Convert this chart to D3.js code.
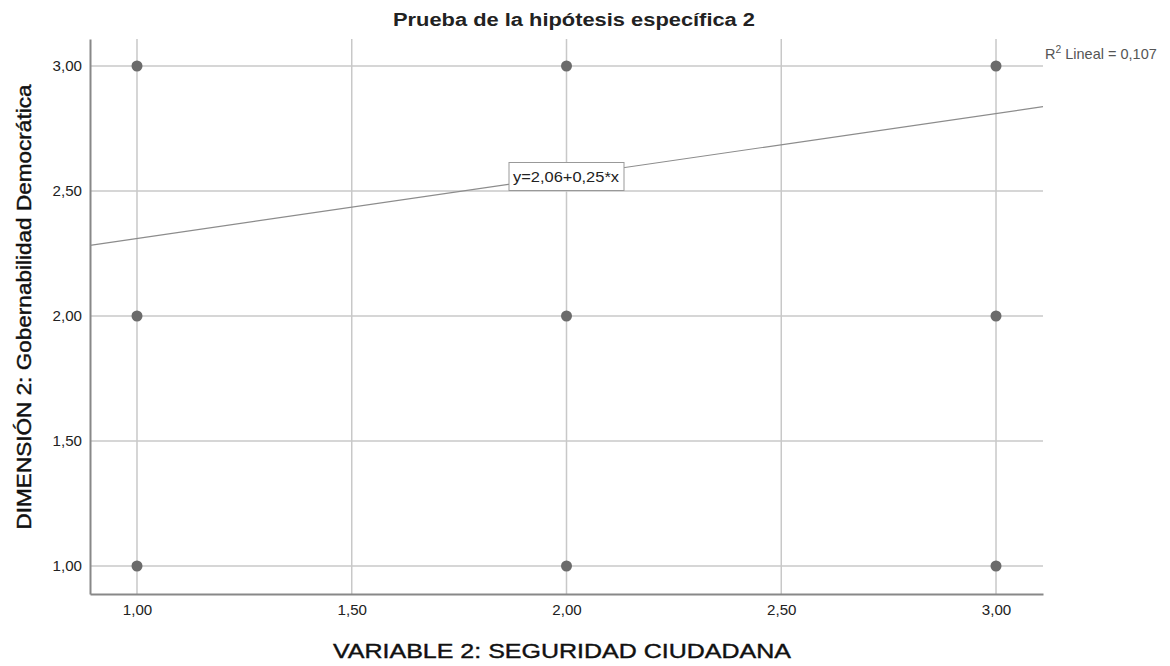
<!DOCTYPE html>
<html lang="es">
<head>
<meta charset="UTF-8">
<title>Prueba de la hipótesis específica 2</title>
<script src="https://d3js.org/d3.v7.min.js"></script>
<style>
  body { margin: 0; background: #fff; }
  text { font-family: "Liberation Sans", Arial, sans-serif; }
</style>
</head>
<body>
<svg width="1170" height="666"></svg>
<script>
// datos
var xVals = [1, 1, 1, 2, 2, 2, 3, 3, 3];
var yVals = [3, 2, 1, 3, 2, 1, 3, 2, 1];
var xTicks = [1, 1.5, 2, 2.5, 3];
var yTicks = [1, 1.5, 2, 2.5, 3];
var intercept = 2.06, slope = 0.25;
var r2 = 0.107;

var svg = d3.select('svg');
var pLeft = 90, pRight = 1043, pTop = 39, pBottom = 594;

var x = d3.scaleLinear().domain([0.8906, 3.1094]).range([pLeft, pRight]);
var y = d3.scaleLinear().domain([0.888, 3.108]).range([pBottom, pTop]);

var fmt = function(v) { return d3.format('.2f')(v).replace('.', ','); };

// ensancha el texto como en la imagen original
function widen(sel, f) {
  sel.each(function() {
    var w = this.getComputedTextLength();
    d3.select(this).attr('textLength', w * f).attr('lengthAdjust', 'spacingAndGlyphs');
  });
}

// rejilla
svg.append('g').selectAll('line').data(xTicks).join('line')
  .attr('x1', d => x(d)).attr('x2', d => x(d))
  .attr('y1', pTop).attr('y2', pBottom)
  .attr('stroke', '#c8c8c8').attr('stroke-width', 1.5);
svg.append('g').selectAll('line').data(yTicks).join('line')
  .attr('x1', pLeft).attr('x2', pRight)
  .attr('y1', d => y(d)).attr('y2', d => y(d))
  .attr('stroke', '#c8c8c8').attr('stroke-width', 1.5);

// ejes
svg.append('g').attr('transform', 'translate(0,' + pBottom + ')')
  .call(d3.axisBottom(x).tickValues(xTicks).tickFormat(fmt).tickSize(0).tickPadding(11))
  .call(g => g.select('.domain').attr('stroke', '#888').attr('stroke-width', 2))
  .call(g => g.selectAll('text').attr('font-size', 14).attr('fill', '#222').call(widen, 1.08));
svg.append('g').attr('transform', 'translate(' + pLeft + ',0)')
  .call(d3.axisLeft(y).tickValues(yTicks).tickFormat(fmt).tickSize(0).tickPadding(8))
  .call(g => g.select('.domain').attr('stroke', '#888').attr('stroke-width', 2))
  .call(g => g.selectAll('text').attr('font-size', 14).attr('fill', '#222').call(widen, 1.08));

// recta de regresión
var x0 = x.domain()[0], x1 = x.domain()[1];
svg.append('line')
  .attr('x1', x(x0)).attr('y1', y(intercept + slope * x0))
  .attr('x2', x(x1)).attr('y2', y(intercept + slope * x1))
  .attr('stroke', '#8c8c8c').attr('stroke-width', 1.2);

// puntos
svg.append('g').selectAll('circle').data(xVals).join('circle')
  .attr('cx', d => x(d)).attr('cy', (d, i) => y(yVals[i]))
  .attr('r', 5.5).attr('fill', '#6b6b6b');

// etiqueta ecuación
var eq = svg.append('g').attr('transform', 'translate(566,176.5)');
eq.append('rect').attr('x', -57).attr('y', -14).attr('width', 115).attr('height', 28)
  .attr('fill', '#fff').attr('stroke', '#999');
eq.append('text').attr('text-anchor', 'middle').attr('dy', '0.35em')
  .attr('font-size', 15).attr('fill', '#222')
  .text('y=' + fmt(intercept) + '+' + fmt(slope) + '*x')
  .attr('textLength', 106).attr('lengthAdjust', 'spacingAndGlyphs');

// R2
var rg = svg.append('g').attr('transform', 'translate(1045,59)');
var rt = rg.append('text').attr('font-size', 14).attr('fill', '#555');
rt.append('tspan').text('R');
rt.append('tspan').attr('font-size', 10).attr('dy', -6).text('2');
rt.append('tspan').attr('dy', 6).text(' Lineal = ' + d3.format('.3f')(r2).replace('.', ','));
var rw = rt.node().getBBox().width;
rt.attr('transform', 'scale(' + (112 / rw) + ',1)');

// títulos
svg.append('text').attr('x', 574).attr('y', 26).attr('text-anchor', 'middle')
  .attr('font-size', 18).attr('font-weight', 'bold').attr('fill', '#222')
  .text('Prueba de la hipótesis específica 2')
  .attr('textLength', 362).attr('lengthAdjust', 'spacingAndGlyphs');
svg.append('text').attr('x', 562).attr('y', 658).attr('text-anchor', 'middle')
  .attr('font-size', 21).attr('fill', '#111').attr('stroke', '#111').attr('stroke-width', 0.4)
  .text('VARIABLE 2: SEGURIDAD CIUDADANA')
  .attr('textLength', 458).attr('lengthAdjust', 'spacingAndGlyphs');
svg.append('text').attr('transform', 'translate(31,307) rotate(-90)').attr('text-anchor', 'middle')
  .attr('font-size', 20).attr('fill', '#111').attr('stroke', '#111').attr('stroke-width', 0.4)
  .text('DIMENSIÓN 2: Gobernabilidad Democrática')
  .attr('textLength', 445).attr('lengthAdjust', 'spacingAndGlyphs');
</script>
</body>
</html>
